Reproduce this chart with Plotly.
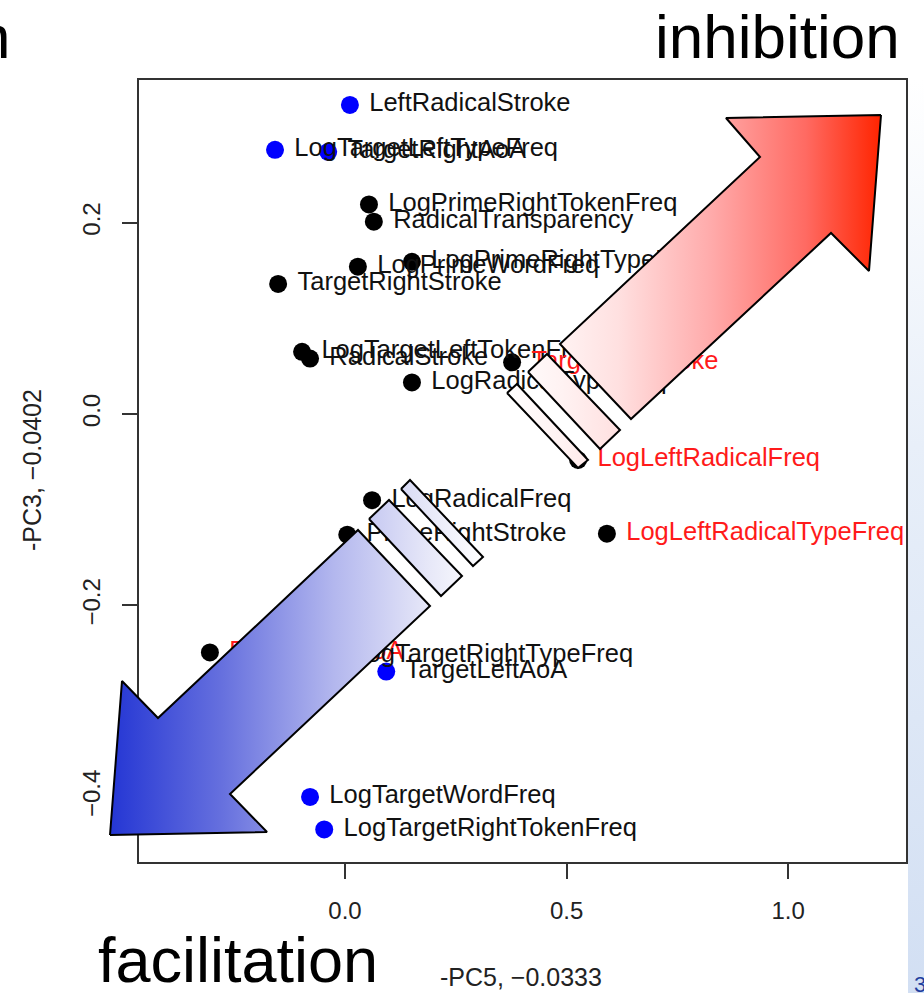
import plotly.graph_objects as go

# ---------------- data ----------------
labels = [
    "LeftRadicalStroke", "LogTargetLeftTypeFreq", "TargetRightAoA",
    "LogPrimeRightTokenFreq", "RadicalTransparency", "LogPrimeRightTypeFreq",
    "LogPrimeWordFreq", "TargetRightStroke", "LogTargetLeftTokenFreq",
    "RadicalStroke", "TargetLeftStroke", "LogRadicalTypeFreq",
    "LogLeftRadicalFreq", "LogRadicalFreq", "PrimeRightStroke",
    "LogLeftRadicalTypeFreq", "PrimeRightAoA", "LogTargetRightTypeFreq",
    "TargetLeftAoA", "LogTargetWordFreq", "LogTargetRightTokenFreq",
]
pc5 = [0.011, -0.158, -0.038, 0.054, 0.065, 0.151, 0.029, -0.151, -0.097,
       -0.079, 0.377, 0.151, 0.526, 0.061, 0.005, 0.591, -0.305, -0.027,
       0.093, -0.079, -0.047]
pc3 = [0.323, 0.276, 0.274, 0.219, 0.201, 0.159, 0.154, 0.136, 0.065,
       0.058, 0.054, 0.033, -0.048, -0.090, -0.126, -0.125, -0.249, -0.252,
       -0.269, -0.400, -0.434]
point_group = ["blue", "blue", "blue", "black", "black", "black", "black",
               "black", "black", "black", "black", "black", "black", "black",
               "black", "black", "black", "black", "blue", "blue", "blue"]
label_group = ["black", "black", "black", "black", "black", "black", "black",
               "black", "black", "black", "red", "black", "red", "black",
               "black", "red", "red", "black", "black", "black", "black"]
x_ticks = [0.0, 0.5, 1.0]
y_ticks = [-0.4, -0.2, 0.0, 0.2]
x_title = "-PC5, \u22120.0333"
y_title = "-PC3, \u22120.0402"

# ---------------- styling / layout geometry ----------------
W, H = 924, 993
FONT = "Liberation Sans, Arial, sans-serif"
BOX_L, BOX_R, BOX_T, BOX_B = 139, 906, 80, 862
X_RANGE = [-0.465, 1.266]
Y_RANGE = [-0.468, 0.349]
POINT_COLORS = {"blue": "#0000FF", "black": "#000000"}
LABEL_COLORS = {"black": "#111111", "red": "#FF1A1A"}

# decorative slide arrows (page pixel coordinates, y from top)
RED_ARROW = [(881, 115), (726, 118), (760, 157), (560, 344), (631, 419),
             (831, 233), (869, 271)]
RED_SEG_A = [(528, 372), (547, 354), (620, 430), (600, 449)]
RED_SEG_B = [(507, 393), (517, 384), (588, 460), (578, 468)]
BLUE_ARROW = [(110, 835), (122, 681), (158, 718), (358, 530), (430, 606),
              (230, 794), (267, 832)]
BLUE_SEG_C = [(369, 519), (389, 500), (462, 576), (441, 596)]
BLUE_SEG_D = [(401, 489), (410, 480), (483, 557), (473, 566)]
RED_SCALE = [[0, "#ffffff"], [0.15, "#fff2f2"], [0.3, "#ffe0e0"],
             [0.55, "#ffaaaa"], [0.8, "#ff6a62"], [1, "#ff2400"]]
BLUE_SCALE = [[0, "#2436d4"], [0.3, "#6670de"], [0.6, "#b3b7ee"],
              [0.85, "#e6e7f8"], [1, "#ffffff"]]

fig = go.Figure()

fig.add_trace(go.Scatter(
    x=pc5, y=pc3, mode="markers+text",
    text=["\u00a0" + s for s in labels], textposition="middle right",
    marker=dict(size=18, color=[POINT_COLORS[g] for g in point_group], line=dict(width=0)),
    textfont=dict(size=25.5, family=FONT, color=[LABEL_COLORS[g] for g in label_group]),
    cliponaxis=False, hoverinfo="skip", showlegend=False,
))


def add_poly(pts, scale=None, start=None, stop=None, orient="horizontal",
             line_w=2.0, solid=None):
    xs = [p[0] for p in pts] + [pts[0][0]]
    ys = [H - p[1] for p in pts] + [H - pts[0][1]]
    kw = dict(x=xs, y=ys, xaxis="x2", yaxis="y2", mode="lines", fill="toself",
              line=dict(color="black", width=line_w),
              hoverinfo="skip", showlegend=False)
    if scale is not None:
        kw["fillgradient"] = dict(type=orient, colorscale=scale, start=start, stop=stop)
    else:
        kw["fillcolor"] = solid
    if line_w == 0:
        kw["line"] = dict(width=0, color="rgba(0,0,0,0)")
    fig.add_trace(go.Scatter(**kw))


# slide background strip at the right edge
add_poly([(908, 0), (924, 0), (924, H), (908, H)],
         scale=[[0, "#d2dff3"], [0.6, "#e8eff9"], [1, "#ffffff"]],
         start=0, stop=H - 80, orient="vertical", line_w=0)

add_poly(RED_SEG_B, RED_SCALE, 506, 881)
add_poly(RED_SEG_A, RED_SCALE, 506, 881)
add_poly(RED_ARROW, RED_SCALE, 506, 881)
add_poly(BLUE_SEG_D, BLUE_SCALE, 110, 483)
add_poly(BLUE_SEG_C, BLUE_SCALE, 110, 483)
add_poly(BLUE_ARROW, BLUE_SCALE, 110, 483)

axis_common = dict(
    ticks="outside", ticklen=15, tickwidth=1.5, tickcolor="#333333",
    showline=True, mirror=True, linecolor="#333333", linewidth=1.5,
    showgrid=False, zeroline=False, tickformat=".1f",
    tickfont=dict(size=24, color="#222222", family=FONT), automargin=False,
)

fig.update_layout(
    width=W, height=H, margin=dict(l=0, r=0, t=0, b=0),
    paper_bgcolor="white", plot_bgcolor="rgba(0,0,0,0)",
    xaxis=dict(domain=[BOX_L / W, BOX_R / W], range=X_RANGE, tickvals=x_ticks,
               anchor="y", ticklabelstandoff=11, **axis_common),
    yaxis=dict(domain=[1 - BOX_B / H, 1 - BOX_T / H], range=Y_RANGE, tickvals=y_ticks,
               anchor="x", tickangle=-90, ticklabelstandoff=13, **axis_common),
    xaxis2=dict(domain=[0, 1], range=[0, W], visible=False, anchor="y2", fixedrange=True),
    yaxis2=dict(domain=[0, 1], range=[0, H], visible=False, anchor="x2", fixedrange=True),
    annotations=[
        dict(text=x_title, x=521 / W, y=1 - 977 / H, xref="paper", yref="paper",
             showarrow=False, xanchor="center", yanchor="middle",
             font=dict(size=25, color="#222222", family=FONT)),
        dict(text=y_title, x=32 / W, y=1 - 470 / H, xref="paper", yref="paper",
             showarrow=False, xanchor="center", yanchor="middle", textangle=-90,
             font=dict(size=25, color="#222222", family=FONT)),
        dict(text="inhibition", x=777 / W, y=1 - 37 / H, xref="paper", yref="paper",
             showarrow=False, xanchor="center", yanchor="middle",
             font=dict(size=62, color="#000000", family=FONT)),
        dict(text="facilitation", x=238 / W, y=1 - 960 / H, xref="paper", yref="paper",
             showarrow=False, xanchor="center", yanchor="middle",
             font=dict(size=63, color="#000000", family=FONT)),
        dict(text="n", x=12 / W, y=1 - 37 / H, xref="paper", yref="paper",
             showarrow=False, xanchor="right", yanchor="middle",
             font=dict(size=62, color="#000000", family=FONT)),
        dict(text="3", x=912 / W, y=1 - 984 / H, xref="paper", yref="paper",
             showarrow=False, xanchor="left", yanchor="middle",
             font=dict(size=22, color="#1f3f9f", family=FONT)),
    ],
)

fig.write_html("out.html", config={"displayModeBar": False},
               post_script="document.body.style.margin='0px';")
